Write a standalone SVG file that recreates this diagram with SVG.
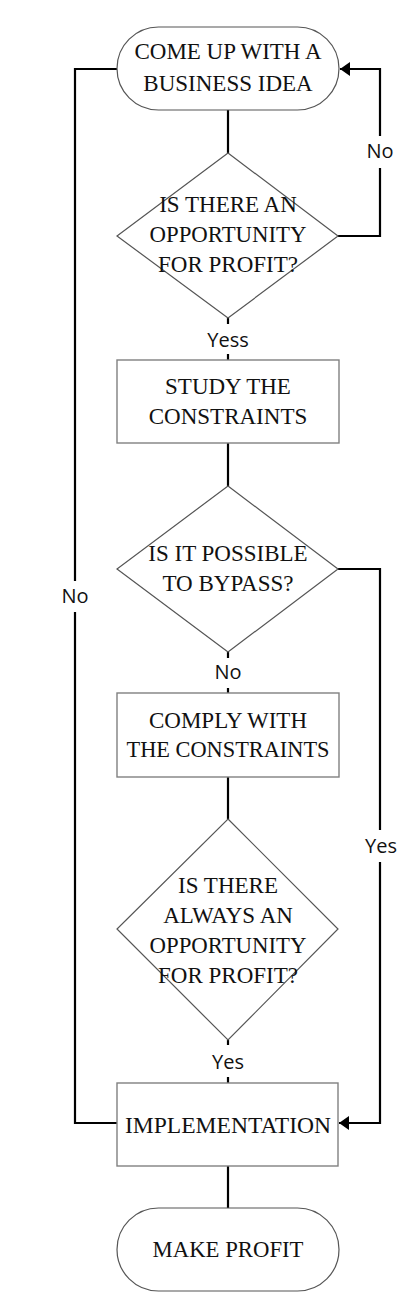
<svg xmlns="http://www.w3.org/2000/svg" width="420" height="1292" viewBox="0 0 420 1292">
<style>
.shape{fill:#fff;stroke:#555;stroke-width:1.2}
.box{fill:#fff;stroke:#808080;stroke-width:1.4}
.t{font-family:"Liberation Serif",serif;font-size:23px;fill:#111;text-anchor:middle}
.lbl{font-family:"Open Sans","Liberation Sans",sans-serif;font-size:20px;fill:#111;text-anchor:middle}
.c{fill:none;stroke:#000;stroke-width:2.2}
</style>
<defs>
<marker id="arr" markerUnits="userSpaceOnUse" markerWidth="12" markerHeight="16" refX="10" refY="7" orient="auto">
<path d="M0,0 L10,7 L0,14 Z" fill="#000"/>
</marker>
</defs>
<rect width="420" height="1292" fill="#fff"/>
<g id="connectors">
<path class="c" d="M228,110 V153"/>
<path class="c" d="M338,236 H380 V168"/>
<path class="c" d="M380,136 V69 H340" marker-end="url(#arr)"/>
<path class="c" d="M228,318 V324 M228,354 V360"/>
<path class="c" d="M228,443 V486"/>
<path class="c" d="M338,569 H380 V830"/>
<path class="c" d="M380,862 V1123 H339" marker-end="url(#arr)"/>
<path class="c" d="M228,652 V658 M228,688 V693"/>
<path class="c" d="M228,777 V819"/>
<path class="c" d="M228,1040 V1045 M228,1077 V1083"/>
<path class="c" d="M117,1123 H75 V612 M75,581 V69 H117"/>
<path class="c" d="M228,1166 V1208"/>
<text class="lbl" x="380" y="158">No</text>
<text class="lbl" x="228" y="347">Yess</text>
<text class="lbl" x="228" y="679">No</text>
<text class="lbl" x="381" y="853">Yes</text>
<text class="lbl" x="228" y="1069">Yes</text>
<text class="lbl" x="75" y="603">No</text>
</g>
<g id="start">
<rect class="shape" x="117" y="27" width="222" height="83" rx="41.5"/>
<text class="t" x="228" y="59" textLength="187" lengthAdjust="spacingAndGlyphs">COME UP WITH A</text>
<text class="t" x="228" y="91">BUSINESS IDEA</text>
</g>
<g id="decision1">
<polygon class="shape" points="228,153 338,236 228,318 117,236"/>
<text class="t" x="228" y="212">IS THERE AN</text>
<text class="t" x="228" y="242" textLength="157" lengthAdjust="spacingAndGlyphs">OPPORTUNITY</text>
<text class="t" x="228" y="272">FOR PROFIT?</text>
</g>
<g id="study">
<rect class="box" x="117" y="360" width="222" height="83"/>
<text class="t" x="228" y="394">STUDY THE</text>
<text class="t" x="228" y="424">CONSTRAINTS</text>
</g>
<g id="decision2">
<polygon class="shape" points="228,486 338,569 228,652 117,569"/>
<text class="t" x="228" y="561">IS IT POSSIBLE</text>
<text class="t" x="228" y="591">TO BYPASS?</text>
</g>
<g id="comply">
<rect class="box" x="117" y="693" width="222" height="84"/>
<text class="t" x="228" y="728">COMPLY WITH</text>
<text class="t" x="228" y="757" textLength="203" lengthAdjust="spacingAndGlyphs">THE CONSTRAINTS</text>
</g>
<g id="decision3">
<polygon class="shape" points="228,819 338,929 228,1040 117,929"/>
<text class="t" x="228" y="893">IS THERE</text>
<text class="t" x="228" y="923">ALWAYS AN</text>
<text class="t" x="228" y="953" textLength="157" lengthAdjust="spacingAndGlyphs">OPPORTUNITY</text>
<text class="t" x="228" y="983">FOR PROFIT?</text>
</g>
<g id="implementation">
<rect class="box" x="117" y="1083" width="221" height="83"/>
<text class="t" x="228" y="1133" textLength="206" lengthAdjust="spacingAndGlyphs">IMPLEMENTATION</text>
</g>
<g id="end">
<rect class="shape" x="117" y="1208" width="222" height="83" rx="41.5"/>
<text class="t" x="228" y="1257" textLength="151" lengthAdjust="spacingAndGlyphs">MAKE PROFIT</text>
</g>
</svg>
